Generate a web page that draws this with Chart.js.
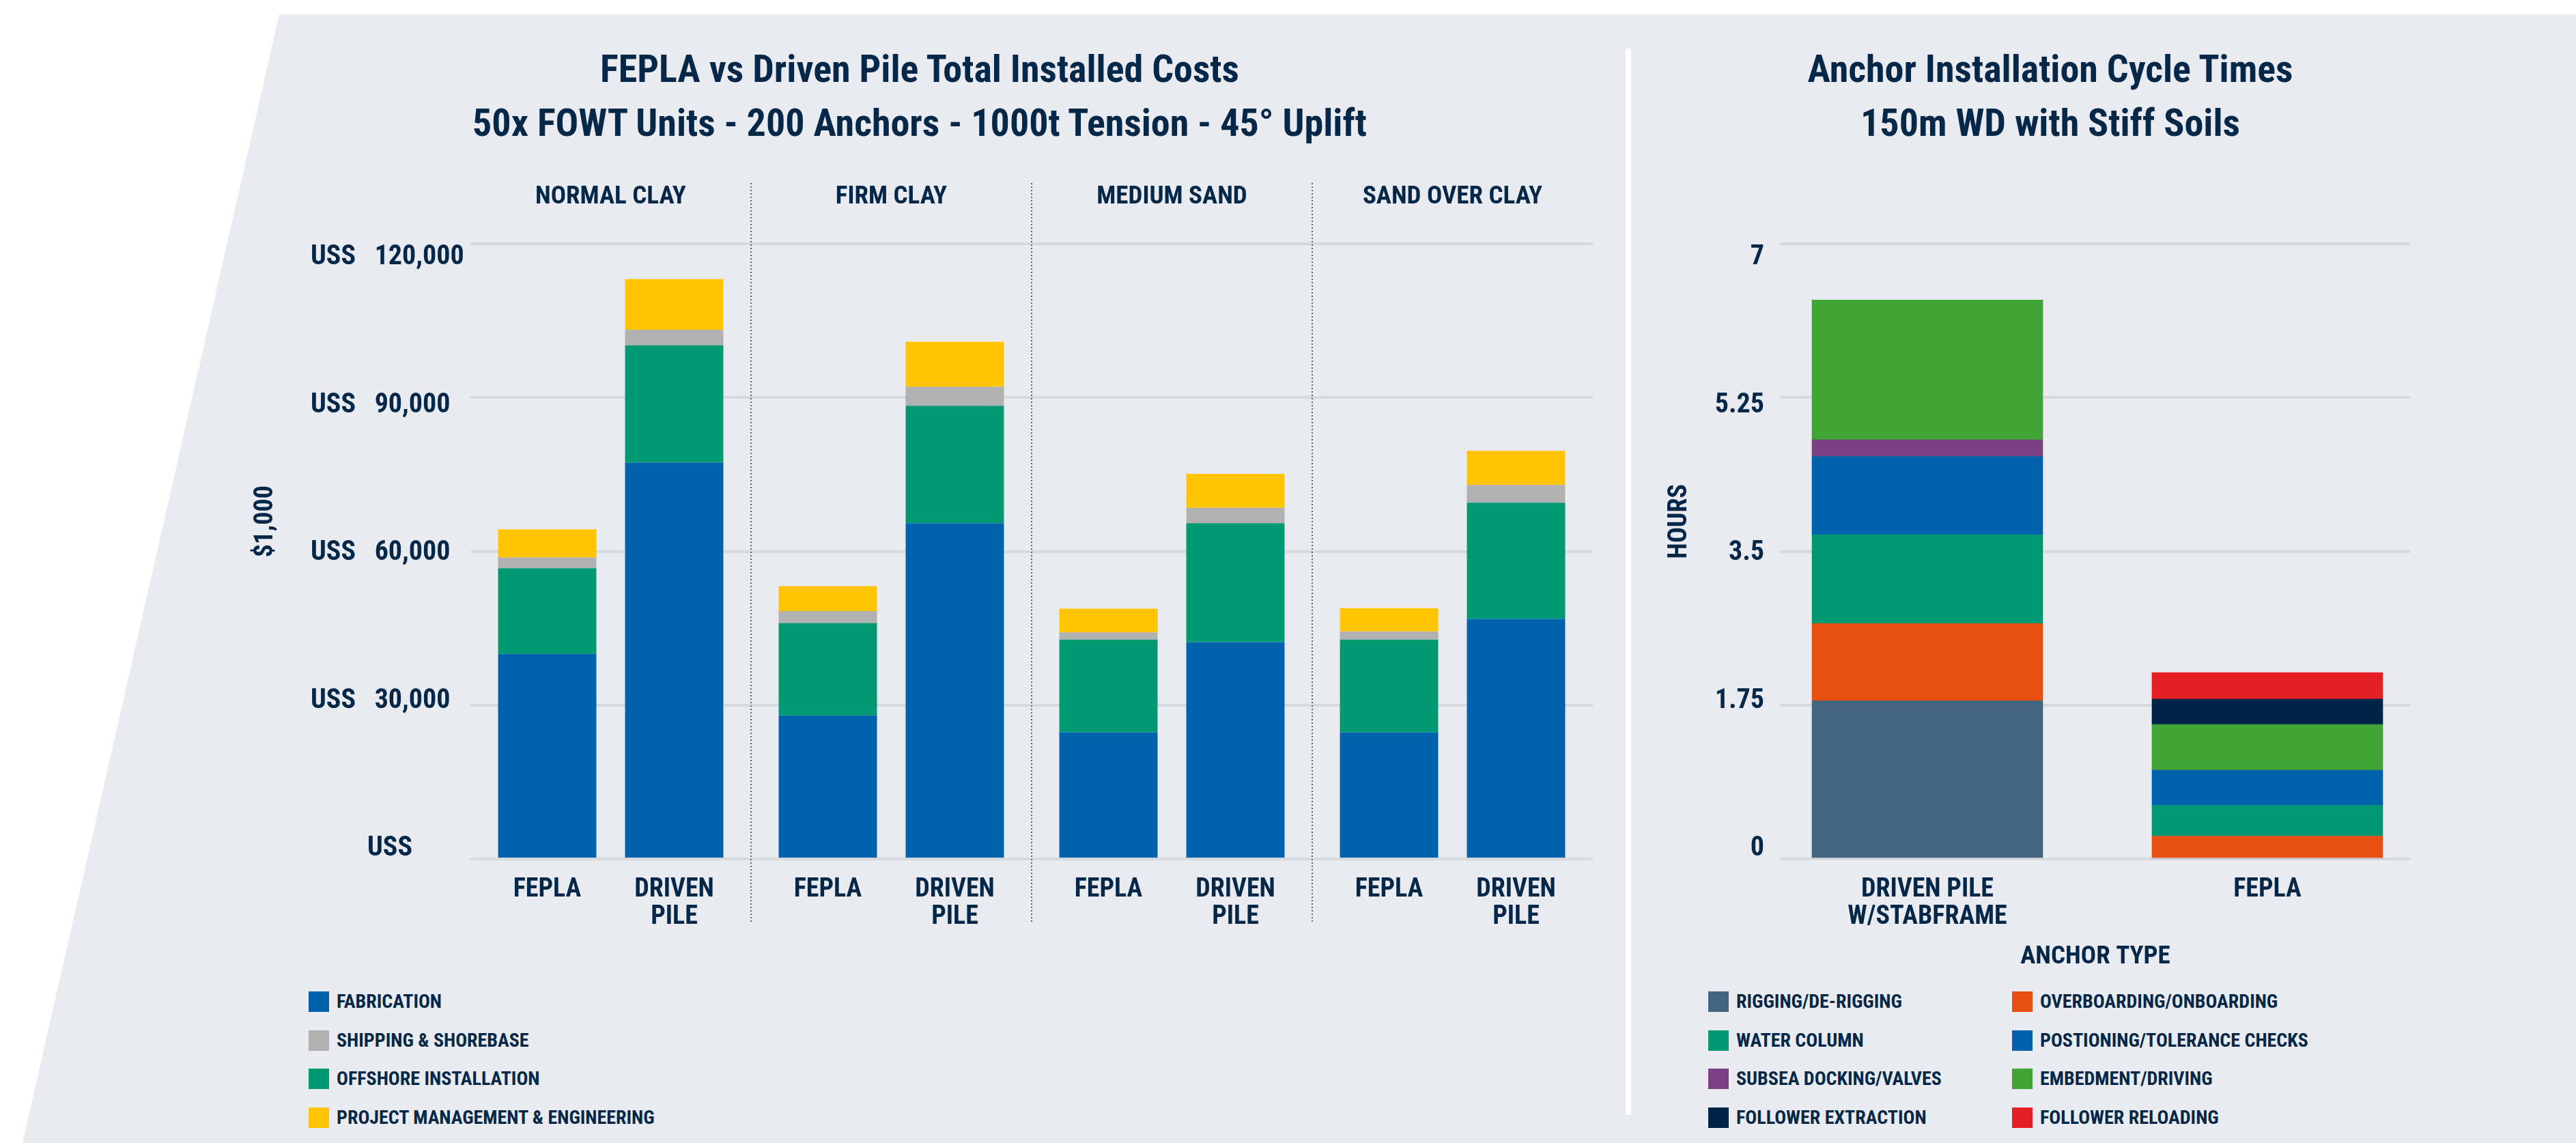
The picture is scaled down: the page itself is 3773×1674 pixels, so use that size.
<!DOCTYPE html>
<html>
<head>
<meta charset="utf-8">
<script src="https://cdn.jsdelivr.net/npm/chart.js@4.4.1/dist/chart.umd.min.js"></script>
<style>
html,body{margin:0;padding:0;background:#ffffff;}
body{width:3773px;height:1674px;position:relative;overflow:hidden;
  font-family:Roboto,"Open Sans",sans-serif;font-weight:bold;font-stretch:condensed;color:#052849;}
#bg{position:absolute;left:0;top:0;width:3773px;height:1674px;background:#EAEBF0;
  clip-path:polygon(409px 21px,3773px 21px,3773px 1674px,33px 1674px);}
#sep{position:absolute;left:2381px;top:71px;width:8px;height:1562px;background:#ffffff;}
.title{position:absolute;top:62px;width:1400px;text-align:center;font-size:56px;line-height:79px;white-space:nowrap;}
canvas{position:absolute;}
.leg{position:absolute;height:30px;line-height:30px;font-size:28px;white-space:nowrap;}
.leg i{position:absolute;left:0;top:0;width:30px;height:30px;}
.leg span{position:absolute;top:0;}
</style>
</head>
<body>
<div id="bg"></div>
<div id="sep"></div>
<div class="title" style="left:647px">FEPLA vs Driven Pile Total Installed Costs<br>50x FOWT Units - 200 Anchors - 1000t Tension - 45° Uplift</div>
<div class="title" style="left:2303px">Anchor Installation Cycle Times<br>150m WD with Stiff Soils</div>
<canvas id="c1" width="1993" height="1380" style="left:340px;top:0;width:1993px;height:1380px"></canvas>
<canvas id="c2" width="1130" height="1440" style="left:2400px;top:0;width:1130px;height:1440px"></canvas>
<div id="legend1"></div>
<div id="legend2"></div>
<script>
// ---------------- DATA: installed costs ($1,000) ----------------
const soilTypes = ['NORMAL CLAY', 'FIRM CLAY', 'MEDIUM SAND', 'SAND OVER CLAY'];
const anchorLabels = ['FEPLA', ['DRIVEN', 'PILE']];
const costSeries = ['FABRICATION', 'SHIPPING & SHOREBASE', 'OFFSHORE INSTALLATION', 'PROJECT MANAGEMENT & ENGINEERING'];
const feplaFabrication = [40000, 28000, 24700, 24700];
const feplaShipping    = [2100, 2350, 1400, 1600];
const feplaOffshore    = [16700, 18000, 18100, 18100];
const feplaProjectMgmt = [5500, 4850, 4600, 4500];
const pileFabrication  = [77300, 65500, 42300, 46800];
const pileShipping     = [3000, 3700, 3000, 3450];
const pileOffshore     = [22900, 22900, 23200, 22700];
const pileProjectMgmt  = [9900, 8800, 6600, 6650];
const costTicks = [0, 30000, 60000, 90000, 120000];

// ---------------- DATA: cycle times (hours) ----------------
const anchorTypes = [['DRIVEN PILE', 'W/STABFRAME'], 'FEPLA'];
const hourSeries = ['RIGGING/DE-RIGGING', 'OVERBOARDING/ONBOARDING', 'WATER COLUMN', 'POSTIONING/TOLERANCE CHECKS',
                    'SUBSEA DOCKING/VALVES', 'EMBEDMENT/DRIVING', 'FOLLOWER EXTRACTION', 'FOLLOWER RELOADING'];
const riggingHours       = [1.80, 0];
const overboardingHours  = [0.88, 0.26];
const waterColumnHours   = [1.01, 0.35];
const positioningHours   = [0.89, 0.40];
const subseaDockingHours = [0.19, 0];
const embedmentHours     = [1.59, 0.52];
const extractionHours    = [0, 0.29];
const reloadingHours     = [0, 0.30];
const hourTicks = [0, 1.75, 3.5, 5.25, 7];

// ---------------- STYLE / LAYOUT ----------------
const TEXT = '#052849';
const FONT = 'Roboto, "Open Sans", sans-serif';
const GRID = '#D8D9DD';
const costColors = ['#0061AC', '#B1B1B1', '#009971', '#FFC600'];
const hourColors = ['#42667F', '#E85011', '#009971', '#0061AC', '#7A4083', '#41A535', '#002447', '#E42024'];
Chart.defaults.font.family = FONT;
Chart.defaults.font.weight = 'bold condensed';
Chart.defaults.color = TEXT;

const PLOT_H = 901;          // chart area height in px (357 .. 1258)
const LABEL_TOP_SHIFT = 20;  // tick labels sit slightly below the top gridline
const LABEL_BOTTOM_SHIFT = 15; // and slightly above the baseline
function labelRange(lo, hi) {
  const u = (hi - lo) / (PLOT_H - LABEL_TOP_SHIFT - LABEL_BOTTOM_SHIFT);
  return { min: lo - LABEL_BOTTOM_SHIFT * u, max: hi + LABEL_TOP_SHIFT * u };
}
// axis titles sit a little above the middle of the axis
function raisedTitle(text, size, px) {
  const c = document.createElement('canvas').getContext('2d');
  c.font = 'bold condensed ' + size + 'px ' + FONT;
  const sp = c.measureText(' ').width || 8;
  return ' '.repeat(Math.round(2 * px / sp)) + text;
}

const feplaValues = [feplaFabrication, feplaShipping, feplaOffshore, feplaProjectMgmt];
const pileValues = [pileFabrication, pileShipping, pileOffshore, pileProjectMgmt];
const stackOrder = [0, 2, 1, 3]; // bottom to top: fabrication, offshore, shipping, PM
const categoryPct = 0.905;
const barPct = 0.774;

const costDatasets = [];
[['FEPLA', feplaValues], ['DRIVEN PILE', pileValues]].forEach(([stackName, vals]) => {
  stackOrder.forEach(k => {
    costDatasets.push({
      label: costSeries[k], data: vals[k], backgroundColor: costColors[k], xAxisID: 'x', yAxisID: 'y',
      stack: stackName, categoryPercentage: categoryPct, barPercentage: barPct, borderWidth: 0
    });
  });
});

const barTickValues = [];
soilTypes.forEach((_, i) => { barTickValues.push(i + 0.5 - categoryPct / 4, i + 0.5 + categoryPct / 4); });

const groupDividers = {
  id: 'groupDividers',
  afterDatasetsDraw(chart) {
    const xs = chart.scales.x, ca = chart.chartArea, ctx = chart.ctx;
    ctx.save();
    ctx.strokeStyle = '#46698C';
    ctx.lineWidth = 2;
    ctx.setLineDash([2, 3]);
    for (let i = 0; i < soilTypes.length - 1; i++) {
      const px = Math.round((xs.getPixelForValue(i) + xs.getPixelForValue(i + 1)) / 2);
      ctx.beginPath();
      ctx.moveTo(px, ca.top - 89);
      ctx.lineTo(px, ca.bottom + 94);
      ctx.stroke();
    }
    ctx.restore();
  }
};

const costLabelRange = labelRange(costTicks[0], costTicks[costTicks.length - 1]);

new Chart(document.getElementById('c1'), {
  type: 'bar',
  data: { labels: soilTypes, datasets: costDatasets },
  plugins: [groupDividers],
  options: {
    responsive: false, animation: false, devicePixelRatio: 1,
    layout: { padding: 0 },
    plugins: { legend: { display: false }, title: { display: false }, tooltip: { enabled: false } },
    scales: {
      y: {
        type: 'linear', position: 'left', stacked: true, weight: 0,
        min: costTicks[0], max: costTicks[costTicks.length - 1],
        grid: { color: GRID, lineWidth: 4, drawTicks: false }, border: { display: false },
        afterBuildTicks: s => { s.ticks = costTicks.map(v => ({ value: v })); },
        ticks: { display: false },
        afterFit: s => { s.width = 0; }
      },
      yl: {
        type: 'linear', position: 'left', weight: 1,
        min: costLabelRange.min, max: costLabelRange.max,
        grid: { display: false }, border: { display: false },
        afterBuildTicks: s => { s.ticks = costTicks.map(v => ({ value: v })); },
        ticks: { color: TEXT, crossAlign: 'far', font: { size: 40, weight: 'bold semi-condensed' },
                 callback: v => v === 0 ? '         USS' : 'USS   ' + v.toLocaleString('en-US') },
        afterFit: s => { s.width = 234; }
      },
      yt: {
        type: 'linear', position: 'left', weight: 10,
        grid: { display: false }, border: { display: false }, ticks: { display: false },
        title: { display: true, text: raisedTitle('$1,000', 38, 43), color: TEXT, font: { size: 38 }, padding: { top: 27, bottom: 0 } },
        afterFit: s => { s.width = 115; }
      },
      x: {
        type: 'category', position: 'top', stacked: true, offset: true,
        grid: { display: false }, border: { display: false },
        ticks: { color: TEXT, font: { size: 37, lineHeight: '40px' }, padding: 40, maxRotation: 0, autoSkip: false },
        afterFit: s => { s.height = 357; }
      },
      x2: {
        type: 'linear', position: 'bottom', min: 0, max: soilTypes.length, offset: false,
        grid: { display: false }, border: { display: false },
        afterBuildTicks: s => { s.ticks = barTickValues.map(v => ({ value: v })); },
        ticks: { color: TEXT, callback: (v, i) => anchorLabels[i % 2], autoSkip: false, maxRotation: 0,
                 padding: 17, font: { size: 38, lineHeight: '40px' } },
        afterFit: s => { s.height = 122; }
      }
    }
  }
});

// ---------------- cycle time chart ----------------
const hourValues = [riggingHours, overboardingHours, waterColumnHours, positioningHours,
                    subseaDockingHours, embedmentHours, extractionHours, reloadingHours];
const hourDatasets = hourSeries.map((name, k) => ({
  label: name, xAxisID: 'x', yAxisID: 'y',
  data: hourValues[k].map((v, i) => ({ x: i, y: v })),
  backgroundColor: hourColors[k], barThickness: 338, borderWidth: 0
}));
const hourLabelRange = labelRange(hourTicks[0], hourTicks[hourTicks.length - 1]);

new Chart(document.getElementById('c2'), {
  type: 'bar',
  data: { datasets: hourDatasets },
  options: {
    responsive: false, animation: false, devicePixelRatio: 1,
    layout: { padding: { top: 357, left: 0, right: 0, bottom: 0 } },
    plugins: { legend: { display: false }, title: { display: false }, tooltip: { enabled: false } },
    scales: {
      y: {
        type: 'linear', stacked: true, position: 'left', weight: 0,
        min: hourTicks[0], max: hourTicks[hourTicks.length - 1],
        grid: { color: GRID, lineWidth: 4, drawTicks: false }, border: { display: false },
        afterBuildTicks: s => { s.ticks = hourTicks.map(v => ({ value: v })); },
        ticks: { display: false },
        afterFit: s => { s.width = 0; }
      },
      yl: {
        type: 'linear', position: 'left', weight: 1,
        min: hourLabelRange.min, max: hourLabelRange.max,
        grid: { display: false }, border: { display: false },
        afterBuildTicks: s => { s.ticks = hourTicks.map(v => ({ value: v })); },
        ticks: { color: TEXT, padding: 16, font: { size: 40, weight: 'bold semi-condensed' }, callback: v => String(v) },
        title: { display: true, text: raisedTitle('HOURS', 38, 45), color: TEXT, font: { size: 38 }, padding: { top: 38, bottom: 0 } },
        afterFit: s => { s.width = 208; }
      },
      x: {
        type: 'linear', stacked: true, min: -0.4317, max: 1.4197, offset: false,
        grid: { display: false }, border: { display: false },
        afterBuildTicks: s => { s.ticks = anchorTypes.map((_, i) => ({ value: i })); },
        ticks: { color: TEXT, callback: (v, i) => anchorTypes[i], autoSkip: false, maxRotation: 0,
                 padding: 17, font: { size: 38, lineHeight: '40px' } },
        title: { display: true, text: 'ANCHOR TYPE', color: TEXT, font: { size: 37 }, padding: { top: 0, bottom: 16 } },
        afterFit: s => { s.height = 182; }
      }
    }
  }
});

// ---------------- HTML legends built from the series arrays ----------------
function legendItem(parent, left, top, color, text) {
  const d = document.createElement('div');
  d.className = 'leg';
  d.style.left = left + 'px';
  d.style.top = top + 'px';
  const sw = document.createElement('i');
  sw.style.background = color;
  const sp = document.createElement('span');
  sp.style.left = '41px';
  sp.textContent = text;
  d.appendChild(sw); d.appendChild(sp);
  parent.appendChild(d);
}
const leg1 = document.getElementById('legend1');
costSeries.forEach((name, k) => legendItem(leg1, 452, 1452 + k * 56.7, costColors[k], name));
const leg2 = document.getElementById('legend2');
hourSeries.forEach((name, k) => {
  const col = k % 2, row = Math.floor(k / 2);
  legendItem(leg2, col === 0 ? 2502 : 2947, 1452 + row * 56.7, hourColors[k], name);
});
</script>
</body>
</html>
